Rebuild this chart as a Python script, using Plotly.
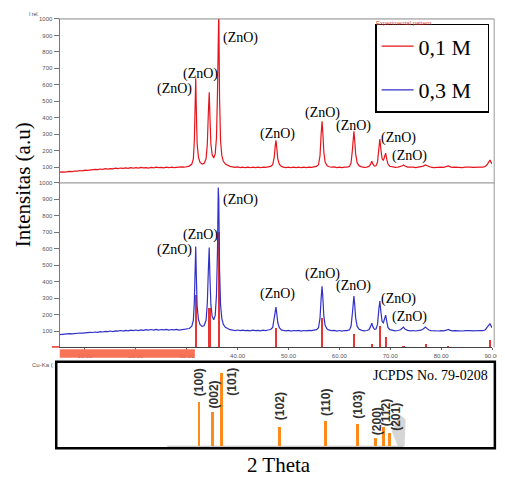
import plotly.graph_objects as go

W, H = 505, 478

# ---------------- data ----------------
pattern_01M = [
    (5.0, 68), (5.5, 71), (6.0, 69), (6.5, 72), (7.0, 74), (7.5, 72), (8.0, 76), (8.5, 75), (9.0, 79), (9.5, 77),
    (10.0, 81), (10.5, 80), (11.0, 83), (11.5, 82), (12.0, 86), (12.5, 84), (13.0, 88), (13.5, 86), (14.0, 90), (14.5, 88),
    (15.0, 91), (15.5, 89), (16.0, 93), (16.5, 90), (17.0, 94), (17.5, 92), (18.0, 95), (18.5, 92), (19.0, 96), (19.5, 93),
    (20.0, 97), (20.5, 94), (21.0, 98), (21.5, 95), (22.0, 97), (22.5, 94), (23.0, 98), (23.5, 95), (24.0, 99), (24.5, 96),
    (25.0, 98), (25.5, 95), (26.0, 99), (26.5, 96), (27.0, 100), (27.5, 97), (28.0, 99), (28.5, 97), (29.0, 101), (29.5, 99),
    (30.0, 103), (30.5, 106), (31.0, 118), (31.3, 150), (31.5, 260), (31.65, 470), (31.77, 640), (31.9, 430), (32.05, 240),
    (32.3, 160), (32.6, 130), (33.0, 118), (33.4, 122), (33.8, 150), (34.05, 240), (34.25, 430), (34.42, 555), (34.55, 420),
    (34.75, 240), (35.0, 175), (35.3, 155), (35.6, 180), (35.85, 280), (36.05, 560), (36.2, 1060), (36.3, 1060), (36.45, 520),
    (36.65, 260), (36.9, 170), (37.2, 135), (37.6, 118), (38.0, 110), (38.5, 104), (39.0, 101), (39.5, 98), (40.0, 101),
    (40.5, 97), (41.0, 100), (41.5, 96), (42.0, 99), (42.5, 96), (43.0, 100), (43.5, 97), (44.0, 99), (44.5, 96), (45.0, 100),
    (45.5, 98), (46.0, 101), (46.5, 104), (46.9, 115), (47.2, 160), (47.4, 230), (47.54, 263), (47.7, 215), (47.9, 150),
    (48.2, 118), (48.6, 104), (49.0, 100), (49.5, 97), (50.0, 100), (50.5, 96), (51.0, 99), (51.5, 97), (52.0, 100), (52.5, 96),
    (53.0, 99), (53.5, 97), (54.0, 100), (54.5, 98), (55.0, 101), (55.5, 104), (55.9, 115), (56.2, 170), (56.42, 300),
    (56.6, 378), (56.75, 310), (56.95, 190), (57.2, 130), (57.6, 108), (58.0, 102), (58.5, 99), (59.0, 101), (59.5, 97),
    (60.0, 100), (60.5, 97), (61.0, 100), (61.5, 99), (62.0, 104), (62.3, 125), (62.55, 200), (62.75, 290), (62.86, 317),
    (63.0, 270), (63.2, 180), (63.5, 125), (63.9, 107), (64.4, 101), (64.9, 98), (65.4, 100), (65.8, 104), (66.1, 115),
    (66.38, 136), (66.6, 118), (66.9, 106), (67.2, 108), (67.5, 130), (67.75, 210), (67.96, 270), (68.15, 210), (68.4, 150),
    (68.65, 140), (68.9, 160), (69.1, 185), (69.3, 150), (69.55, 118), (69.9, 105), (70.4, 100), (71.0, 98), (71.5, 100),
    (72.0, 103), (72.4, 108), (72.6, 113), (72.9, 106), (73.4, 100), (74.0, 97), (74.5, 99), (75.0, 97), (75.5, 99),
    (76.0, 101), (76.5, 106), (76.9, 113), (77.2, 108), (77.6, 102), (78.0, 99), (78.5, 97), (79.0, 99), (79.5, 97),
    (80.0, 99), (80.5, 98), (81.0, 102), (81.4, 107), (81.8, 101), (82.2, 98), (82.7, 99), (83.2, 97), (83.7, 99), (84.2, 97),
    (84.7, 99), (85.2, 97), (85.7, 99), (86.2, 98), (86.7, 100), (87.2, 98), (87.7, 100), (88.2, 99), (88.7, 104), (89.1, 118),
    (89.4, 135), (89.6, 142), (89.8, 130), (90.0, 118),
]

pattern_03M = [
    (5.0, 78), (5.5, 80), (6.0, 79), (6.5, 82), (7.0, 84), (7.5, 83), (8.0, 86), (8.5, 85), (9.0, 88), (9.5, 87),
    (10.0, 90), (10.5, 89), (11.0, 92), (11.5, 91), (12.0, 94), (12.5, 92), (13.0, 96), (13.5, 94), (14.0, 98), (14.5, 96),
    (15.0, 100), (15.5, 97), (16.0, 101), (16.5, 99), (17.0, 103), (17.5, 100), (18.0, 104), (18.5, 101), (19.0, 105),
    (19.5, 102), (20.0, 106), (20.5, 103), (21.0, 107), (21.5, 104), (22.0, 108), (22.5, 105), (23.0, 109), (23.5, 106),
    (24.0, 110), (24.5, 106), (25.0, 109), (25.5, 107), (26.0, 110), (26.5, 106), (27.0, 109), (27.5, 107), (28.0, 110),
    (28.5, 106), (29.0, 109), (29.5, 108), (30.0, 111), (30.5, 115), (31.0, 130), (31.3, 165), (31.5, 280), (31.65, 470),
    (31.77, 613), (31.9, 420), (32.05, 250), (32.3, 170), (32.6, 140), (33.0, 128), (33.4, 132), (33.8, 165), (34.05, 270),
    (34.25, 470), (34.42, 607), (34.55, 440), (34.75, 260), (35.0, 190), (35.3, 168), (35.6, 195), (35.85, 320), (36.05, 600),
    (36.2, 972), (36.3, 900), (36.45, 480), (36.65, 260), (36.9, 175), (37.2, 140), (37.6, 122), (38.0, 114), (38.5, 108),
    (39.0, 106), (39.5, 103), (40.0, 106), (40.5, 102), (41.0, 105), (41.5, 102), (42.0, 104), (42.5, 101), (43.0, 105),
    (43.5, 102), (44.0, 104), (44.5, 101), (45.0, 105), (45.5, 103), (46.0, 106), (46.5, 109), (46.9, 122), (47.2, 170),
    (47.4, 225), (47.54, 245), (47.7, 205), (47.9, 150), (48.2, 120), (48.6, 107), (49.0, 104), (49.5, 101), (50.0, 104),
    (50.5, 100), (51.0, 103), (51.5, 101), (52.0, 104), (52.5, 100), (53.0, 103), (53.5, 101), (54.0, 104), (54.5, 102),
    (55.0, 105), (55.5, 108), (55.9, 120), (56.2, 180), (56.42, 300), (56.6, 372), (56.75, 305), (56.95, 190), (57.2, 135),
    (57.6, 112), (58.0, 105), (58.5, 102), (59.0, 104), (59.5, 100), (60.0, 103), (60.5, 100), (61.0, 103), (61.5, 102),
    (62.0, 107), (62.3, 130), (62.55, 205), (62.75, 285), (62.86, 312), (63.0, 265), (63.2, 180), (63.5, 128), (63.9, 110),
    (64.4, 104), (64.9, 101), (65.4, 103), (65.8, 108), (66.1, 125), (66.38, 148), (66.6, 125), (66.9, 110), (67.2, 112),
    (67.5, 140), (67.75, 230), (67.96, 282), (68.15, 220), (68.4, 158), (68.65, 150), (68.9, 175), (69.1, 197), (69.3, 160),
    (69.55, 122), (69.9, 108), (70.4, 103), (71.0, 101), (71.5, 103), (72.0, 108), (72.4, 118), (72.6, 124), (72.9, 112),
    (73.4, 104), (74.0, 101), (74.5, 103), (75.0, 100), (75.5, 102), (76.0, 105), (76.5, 112), (76.9, 124), (77.2, 116),
    (77.6, 106), (78.0, 102), (78.5, 100), (79.0, 102), (79.5, 100), (80.0, 102), (80.5, 101), (81.0, 105), (81.4, 110),
    (81.8, 104), (82.2, 101), (82.7, 102), (83.2, 100), (83.7, 102), (84.2, 100), (84.7, 102), (85.2, 100), (85.7, 102),
    (86.2, 101), (86.7, 103), (87.2, 101), (87.7, 103), (88.2, 102), (88.7, 108), (89.1, 125), (89.4, 140), (89.6, 144),
    (89.8, 132), (90.0, 120),
]

theta_01 = [p[0] for p in pattern_01M]
inten_01 = [p[1] for p in pattern_01M]
theta_03 = [p[0] for p in pattern_03M]
inten_03 = [p[1] for p in pattern_03M]

# reference stick pattern (red) shown in the lower experimental panel
stick_theta = [31.77, 34.42, 36.25, 47.54, 56.60, 62.86, 66.38, 67.96, 69.10, 72.56, 76.95, 81.37, 89.60]
stick_inten = [320, 240, 700, 120, 180, 80, 24, 130, 65, 12, 24, 12, 48]

# JCPDS 79-0208 reference lines
jcpds_theta = [31.77, 34.42, 36.25, 47.54, 56.60, 62.86, 66.38, 67.96, 69.10]
jcpds_inten = [61, 47, 100, 27, 34, 30, 12, 26, 18]
jcpds_hkl = ["(100)", "(002)", "(101)", "(102)", "(110)", "(103)", "(200)", "(112)", "(201)"]
jcpds_label_theta = [31.71, 34.60, 38.03, 47.53, 56.59, 62.84, 66.62, 68.55, 70.36]
jcpds_label_y = [87, 70, 88, 54, 60, 56, 34, 46, 40]

# "(ZnO)" labels: (2theta, intensity) anchor of text
zno_top = [(27.66, 577), (32.63, 668), (40.52, 885), (47.81, 301), (56.62, 428), (62.86, 352), (71.70, 275), (73.69, 167)]
zno_bot = [(27.66, 594), (32.63, 684), (40.52, 896), (47.81, 322), (56.62, 446), (62.86, 372), (71.70, 292), (73.69, 187)]

ytick_vals = [100, 200, 300, 400, 500, 600, 700, 800, 900, 1000]
xtick_vals = [10, 20, 30, 40, 50, 60, 70, 80, 90]
xtick_text = ["10.00", "20.00", "30.00", "40.00", "50.00", "60.00", "70.00", "80.00", "90.00"]
series_names = ["0,1 M\u00a0\u00a0", "0,3 M\u00a0\u00a0"]

# ---------------- layout helpers ----------------
# the page body adds an 8 px offset; positions below are given in window pixels
OFF = 8


def PX(x):
    return (x - OFF) / W


def PY(y):
    return 1 - (y - OFF) / H


SERIF = "Liberation Serif"
SANS = "Liberation Sans"
RED = "#E8141C"
BLUE = "#3131C8"

fig = go.Figure()

fig.add_trace(go.Scatter(x=theta_01, y=inten_01, mode="lines", name=series_names[0],
                         line=dict(color=RED, width=1.2), xaxis="x", yaxis="y", legendgroup="a"))
fig.add_trace(go.Scatter(x=theta_03, y=inten_03, mode="lines", name=series_names[1],
                         line=dict(color=BLUE, width=1.2), xaxis="x2", yaxis="y2", legendgroup="b"))
fig.add_trace(go.Bar(x=stick_theta, y=stick_inten, width=0.32, marker=dict(color="#E53535", line=dict(width=0)),
                     xaxis="x2", yaxis="y2", showlegend=False))
fig.add_trace(go.Bar(x=jcpds_theta, y=jcpds_inten, width=0.55, marker=dict(color="#FF8A1C", line=dict(width=0)),
                     xaxis="x3", yaxis="y3", showlegend=False))

xdom = [PX(60.35), PX(499.8)]
ax_common = dict(showgrid=False, zeroline=False)
tickfont = dict(family=SANS, size=6, color="#555")

fig.update_layout(
    width=W, height=H, margin=dict(l=0, r=0, t=0, b=0),
    paper_bgcolor="white", plot_bgcolor="rgba(0,0,0,0)",
    barmode="overlay", bargap=0,
    xaxis=dict(domain=xdom, range=[5, 90], anchor="y", showticklabels=False, ticks="", showline=False, **ax_common),
    yaxis=dict(domain=[PY(181.6), PY(16)], range=[0, 1000], anchor="x", tickvals=ytick_vals,
               ticks="outside", ticklen=5, tickcolor="#777", showline=True, linecolor="#777", linewidth=1,
               tickfont=tickfont, **ax_common),
    xaxis2=dict(domain=xdom, range=[5, 90], anchor="y2", tickvals=xtick_vals, ticktext=xtick_text,
                ticks="outside", ticklen=2, tickcolor="#666", showline=True, linecolor="#444", linewidth=1,
                tickfont=tickfont, **ax_common),
    yaxis2=dict(domain=[PY(346.6), PY(181)], range=[0, 1000], anchor="x2", tickvals=ytick_vals,
                ticks="outside", ticklen=5, tickcolor="#777", showline=True, linecolor="#777", linewidth=1,
                tickfont=tickfont, **ax_common),
    xaxis3=dict(domain=[PX(57), PX(502.7)], range=[3.72, 89.76], anchor="y3", visible=False, **ax_common),
    yaxis3=dict(domain=[PY(448), PY(361)], range=[-2.7, 114.9], anchor="x3", visible=False, **ax_common),
    legend=dict(x=PX(381), y=PY(21), xanchor="left", yanchor="top", bgcolor="white",
                bordercolor="black", borderwidth=1.5, traceorder="grouped", tracegroupgap=12, itemwidth=32,
                font=dict(family=SERIF, size=22, color="black")),
)

shapes = []
# panel frame lines
shapes.append(dict(type="line", xref="paper", yref="paper", x0=PX(59), x1=PX(502), y0=PY(16), y1=PY(16),
                   line=dict(color="#888", width=1)))
shapes.append(dict(type="line", xref="paper", yref="paper", x0=PX(502), x1=PX(502), y0=PY(16), y1=PY(346.6),
                   line=dict(color="#999", width=1)))
shapes.append(dict(type="line", xref="paper", yref="paper", x0=PX(59), x1=PX(502), y0=PY(181), y1=PY(181),
                   line=dict(color="#888", width=1)))
shapes.append(dict(type="line", xref="paper", yref="paper", x0=PX(52.5), x1=PX(60), y0=PY(346), y1=PY(346),
                   line=dict(color="#E53535", width=1.5)))
# range selector bar under the axis
shapes.append(dict(type="rect", xref="x2", yref="paper", x0=5, x1=31.6, y0=PY(357), y1=PY(348.3),
                   fillcolor="#F7694C", opacity=0.93, line=dict(width=0), layer="above"))
# JCPDS box
shapes.append(dict(type="rect", xref="paper", yref="paper", x0=PX(57), x1=PX(502.7), y0=PY(448), y1=PY(361),
                   line=dict(color="black", width=2.5)))
# grey baseline of reference pattern
shapes.append(dict(type="line", xref="x3", yref="y3", x0=25.5, x1=71.8, y0=0, y1=0,
                   line=dict(color="#BBBBBB", width=1), layer="below"))
# grey smudge near (201)
pts = [(404, 446), (398, 431), (406, 414), (412, 419), (411, 446)]
path = "M " + " L ".join(f"{PX(a):.5f},{PY(b):.5f}" for a, b in pts) + " Z"
shapes.append(dict(type="path", xref="paper", yref="paper", path=path, fillcolor="#D6D6D6",
                   line=dict(width=0), layer="below"))
fig.update_layout(shapes=shapes)

ann = []
for (tx, ty) in zno_top:
    ann.append(dict(x=tx, y=ty, xref="x", yref="y", text="(ZnO)", showarrow=False,
                    font=dict(family=SERIF, size=14, color="black")))
for (tx, ty) in zno_bot:
    ann.append(dict(x=tx, y=ty, xref="x2", yref="y2", text="(ZnO)", showarrow=False,
                    font=dict(family=SERIF, size=14, color="black")))
for lx, ly, t in zip(jcpds_label_theta, jcpds_label_y, jcpds_hkl):
    ann.append(dict(x=lx, y=ly, xref="x3", yref="y3", text=f"<b>{t}</b>", showarrow=False, textangle=-90,
                    xanchor="center", yanchor="middle", font=dict(family=SANS, size=12, color="#333")))
ann.append(dict(x=PX(498), y=PY(375), xref="paper", yref="paper", text="JCPDS No. 79-0208", showarrow=False,
                xanchor="right", yanchor="middle", font=dict(family=SERIF, size=14, color="black")))
ann.append(dict(x=PX(283), y=PY(465), xref="paper", yref="paper", text="2 Theta", showarrow=False,
                xanchor="center", yanchor="middle", font=dict(family=SERIF, size=21, color="black")))
ann.append(dict(x=PX(24), y=PY(182.5), xref="paper", yref="paper", text="Intensitas (a.u)", showarrow=False,
                textangle=-90, xanchor="center", yanchor="middle", font=dict(family=SERIF, size=21, color="black")))
ann.append(dict(x=PX(34), y=PY(11), xref="paper", yref="paper", text="I rel.", showarrow=False,
                xanchor="center", yanchor="middle", font=dict(family=SANS, size=5, color="#444")))
ann.append(dict(x=PX(43), y=PY(364), xref="paper", yref="paper", text="Cu-Ka (", showarrow=False,
                xanchor="center", yanchor="middle", font=dict(family=SANS, size=6, color="#555")))
ann.append(dict(x=PX(410), y=PY(20), xref="paper", yref="paper", text="Experimental pattern", showarrow=False,
                xanchor="center", yanchor="middle", font=dict(family=SANS, size=6, color="#E04040")))
fig.update_layout(annotations=ann)

fig.write_html("out.html")
